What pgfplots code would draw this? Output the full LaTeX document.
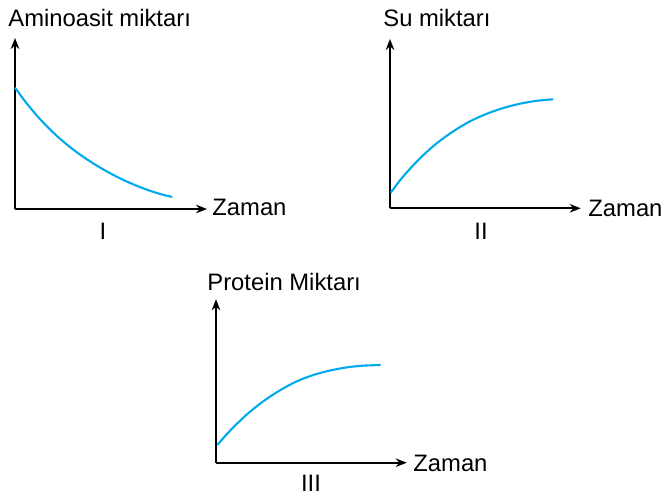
\documentclass[border=0pt]{standalone}
\usepackage{pgfplots}
\pgfplotsset{compat=1.18}
\usetikzlibrary{arrows.meta}
\usepackage{fontspec}
\setmainfont{Liberation Sans}
\definecolor{curve}{RGB}{0,170,236}
\pgfplotsset{
  mini/.style={
    scale only axis, axis lines=left, xtick=\empty, ytick=\empty,
    enlargelimits=false, clip=false, xmin=0, ymin=0,
    axis line style={line width=0.8pt, -{Stealth[length=5.5pt,width=4.3pt]}},
  },
  crv/.style={color=curve, line width=1.05pt, smooth, no marks},
}
\tikzset{lbl/.style={font=\fontsize{11.9}{14}\selectfont, inner sep=0}}
\begin{document}
\begin{tikzpicture}[x=0.5pt,y=0.5pt]
\useasboundingbox (0,0) rectangle (664,499);
% ---- I ----
\begin{axis}[mini, at={(15,290)}, anchor=origin, width=96pt, height=85.5pt, xmax=192, ymax=171]
\addplot[crv] coordinates {(0,121.3) (10,107.8) (20,95.6) (30,84.6) (40,74.8) (50,66) (60,58.1) (70,51) (80,44.5) (90,38.6) (100,33.2) (110,28.3) (120,23.9) (130,20) (140,16.6) (150,13.7) (157.3,12.1)};
\end{axis}
\node[lbl, anchor=base west] at (8,472) {Aminoasit miktarı};
\node[lbl, anchor=base west] at (212,283.5) {Zaman};
\node[lbl, anchor=base] at (103,260) {I};
% ---- II ----
\begin{axis}[mini, at={(390,290.7)}, anchor=origin, width=95.35pt, height=84.65pt, xmax=190.7, ymax=169.3]
\addplot[crv] coordinates {(0.7,15.6) (13.3,32) (30,50) (46.7,65) (63.3,77) (80,87) (96.7,94.5) (113.3,100.3) (130,104.6) (146.7,107.5) (163.3,109)};
\end{axis}
\node[lbl, anchor=base west] at (383,472.3) {Su miktarı};
\node[lbl, anchor=base west] at (588,283) {Zaman};
\node[lbl, anchor=base] at (481,260) {II};
% ---- III ----
\begin{axis}[mini, at={(216,36.3)}, anchor=origin, width=95.35pt, height=81.7pt, xmax=190.7, ymax=163.4]
\addplot[crv] coordinates {(1.3,17.7) (14,32) (30,47.5) (46.7,61) (63.3,72) (80,81) (96.7,87.5) (113.3,92) (130,95.2) (146.7,97) (164.7,97.7)};
\end{axis}
\node[lbl, anchor=base west] at (207,209) {Protein Miktarı};
\node[lbl, anchor=base west] at (413,27.3) {Zaman};
\node[lbl, anchor=base] at (311,8) {III};
\end{tikzpicture}
\end{document}
